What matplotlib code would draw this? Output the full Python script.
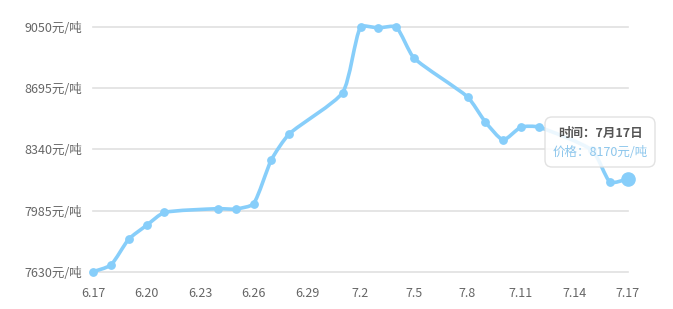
import numpy as np
import matplotlib
matplotlib.use('Agg')
import matplotlib.pyplot as plt
from matplotlib.path import Path
from matplotlib.patches import PathPatch, FancyBboxPatch
from datetime import date

plt.rcParams['font.family'] = ['Noto Sans CJK SC', 'DejaVu Sans']

# donnees (2019)
dates = ['6.17', '6.18', '6.19', '6.20', '6.21', '6.24', '6.25', '6.26', '6.27', '6.28',
         '7.1', '7.2', '7.3', '7.4', '7.5', '7.8', '7.9', '7.10', '7.11', '7.12',
         '7.15', '7.16', '7.17']
prices = [7632, 7670, 7820, 7900, 7975, 7997, 7995, 8025, 8280, 8430,
          8670, 9050, 9045, 9050, 8870, 8645, 8500, 8395, 8470, 8470,
          8335, 8150, 8170]
xticklabels = ['6.17', '6.20', '6.23', '6.26', '6.29', '7.2', '7.5', '7.8', '7.11', '7.14', '7.17']
yticks = [7630, 7985, 8340, 8695, 9050]
tip_title = '时间：7月17日'
tip_value = '价格：8170元/吨'

start = date(2019, 6, 17)
def day(s):
    m, d = s.split('.')
    return (date(2019, int(m), int(d)) - start).days

x = np.array([day(s) for s in dates], dtype=float)
y = np.array(prices, dtype=float)
xt = [day(s) for s in xticklabels]

color = '#87cefa'

fig = plt.figure(figsize=(6.73, 3.09), dpi=100)
ax = fig.add_axes([93/673, 1-272/309, 535/673, 245/309])
ax.set_xlim(0, 30)
ax.set_ylim(7630, 9050)

# courbe lissee (bezier facon echarts)
sx = 535/30.0
sy = 245/1420.0
smooth = 0.2
n = len(x)
verts = [(x[0], y[0])]
codes = [Path.MOVETO]
cps = []
for i in range(n):
    if i == 0 or i == n-1:
        cps.append(((x[i], y[i]), (x[i], y[i])))
        continue
    vx = x[i+1] - x[i-1]
    vy = y[i+1] - y[i-1]
    d0 = np.hypot((x[i]-x[i-1])*sx, (y[i]-y[i-1])*sy)
    d1 = np.hypot((x[i+1]-x[i])*sx, (y[i+1]-y[i])*sy)
    s = d0 + d1
    c0 = (x[i] - vx*smooth*d0/s, y[i] - vy*smooth*d0/s)
    c1 = (x[i] + vx*smooth*d1/s, y[i] + vy*smooth*d1/s)
    cps.append((c0, c1))
for i in range(n-1):
    verts += [cps[i][1], cps[i+1][0], (x[i+1], y[i+1])]
    codes += [Path.CURVE4]*3
ax.add_patch(PathPatch(Path(verts, codes), fill=False, ec=color, lw=2.6,
                       clip_on=False, zorder=3, capstyle='round', joinstyle='round'))
ax.plot(x[:-1], y[:-1], 'o', color=color, ms=5.3, clip_on=False, zorder=4)
ax.plot(x[-1:], y[-1:], 'o', color=color, ms=9.5, clip_on=False, zorder=4)

ax.set_xticks(xt)
ax.set_xticklabels(xticklabels)
ax.set_yticks(yticks)
ax.set_yticklabels([f'{v}元/吨' for v in yticks])
ax.tick_params(axis='both', length=0, labelsize=9, labelcolor='#666666')
ax.tick_params(axis='x', pad=11)
ax.tick_params(axis='y', pad=8)
for sp in ax.spines.values():
    sp.set_visible(False)
# lignes de grille (la derniere en bas aussi)
for v in yticks:
    ax.axhline(v, color='#e0e0e0', lw=1.2, clip_on=False, zorder=1)

# infobulle
box = FancyBboxPatch((5.45, 1.42), 1.10, 0.50, boxstyle='round,pad=0,rounding_size=0.07',
                     transform=fig.dpi_scale_trans, fc='white', ec='#dddddd', lw=1,
                     alpha=0.85, zorder=10)
fig.patches.append(box)
fig.text(6.00, 1.76, tip_title, transform=fig.dpi_scale_trans, ha='center', va='center',
         fontsize=9, fontweight='bold', color='#555555', zorder=11)
fig.text(6.00, 1.57, tip_value, transform=fig.dpi_scale_trans, ha='center', va='center',
         fontsize=9, color='#8cc6ec', zorder=11)

fig.savefig('out.png', dpi=100)
